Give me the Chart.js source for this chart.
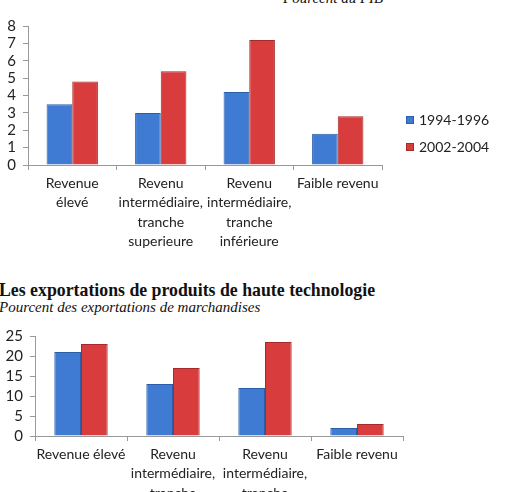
<!DOCTYPE html>
<html>
<head>
<meta charset="utf-8">
<script src="https://cdn.jsdelivr.net/npm/chart.js@4/dist/chart.umd.min.js"></script>
<style>
  body { margin: 0; background: #fff; width: 518px; height: 492px; overflow: hidden; position: relative; }
  .box { position: absolute; left: 0; width: 518px; }
  .serif { position: absolute; font-family: "Liberation Serif", "Times New Roman", serif; color: #111; white-space: nowrap; }
  .legend { position: absolute; left: 406px; font-family: Lato, "Open Sans", sans-serif; font-size: 14px; color: #222; }
  .legend div { position: absolute; white-space: nowrap; line-height: 14px; }
  .legend span { display: inline-block; width: 6px; height: 6px; margin-right: 5px; vertical-align: 1px; }
</style>
</head>
<body>
<div class="serif" style="left:283px; top:-10px; font-size:15px; font-style:italic;">Pourcent du PIB</div>
<div class="box" style="top:0; height:250px;"><canvas id="pib" width="518" height="250"></canvas></div>
<div class="legend" id="legend" style="top:113px;"></div>
<div class="serif" style="left:-1px; top:280px; font-size:17.8px; font-weight:bold;">Les exportations de produits de haute technologie</div>
<div class="serif" style="left:-1px; top:299px; font-size:15px; font-style:italic;">Pourcent des exportations de marchandises</div>
<div class="box" style="top:320px; height:172px;"><canvas id="tech" width="518" height="172"></canvas></div>
<script>
// income groups, PIB chart (multi-line labels)
const pibCategories = [
  ['Revenue', 'élevé'],
  ['Revenu', 'intermédiaire,', 'tranche', 'superieure'],
  ['Revenu', 'intermédiaire,', 'tranche', 'inférieure'],
  ['Faible revenu']
];
const techCategories = [
  ['Revenue élevé'],
  ['Revenu', 'intermédiaire,', 'tranche', 'superieure'],
  ['Revenu', 'intermédiaire,', 'tranche', 'inférieure'],
  ['Faible revenu']
];
const seriesLabels = ['1994-1996', '2002-2004'];

// Pourcent du PIB
const pib9496 = [3.5, 3.0, 4.2, 1.8];
const pib0204 = [4.8, 5.4, 7.2, 2.8];

// Pourcent des exportations de marchandises
const tech9496 = [21, 13, 12, 2];
const tech0204 = [23, 17, 23.5, 3];

const blue = '#3f7ad3';
const blueEdge = '#2c5ea8';
const red = '#d93c3c';
const redEdge = '#a52a2a';

const family = 'Lato, "Open Sans", sans-serif';

function makeChart(id, labels, a, b, yMax, yStep, axisWidth, xHeight, padding) {
  return new Chart(document.getElementById(id), {
    type: 'bar',
    data: {
      labels: labels,
      datasets: [
        { label: seriesLabels[0], data: a, backgroundColor: blue, borderColor: blueEdge, borderWidth: 1 },
        { label: seriesLabels[1], data: b, backgroundColor: red, borderColor: redEdge, borderWidth: 1 }
      ]
    },
    options: {
      responsive: false,
      animation: false,
      layout: { padding: padding },
      datasets: { bar: { categoryPercentage: 0.58, barPercentage: 1 } },
      plugins: { legend: { display: false }, tooltip: { enabled: false }, title: { display: false } },
      scales: {
        x: {
          grid: { drawOnChartArea: false, tickLength: 5, color: '#999' },
          border: { color: '#999' },
          ticks: { font: { family: family, size: 14, lineHeight: 1.38 }, color: '#222', padding: 4, maxRotation: 0, autoSkip: false },
          afterFit: s => { s.height = xHeight; }
        },
        y: {
          min: 0, max: yMax,
          grid: { drawOnChartArea: false, tickLength: 5, color: '#999' },
          border: { color: '#999' },
          ticks: { stepSize: yStep, autoSkip: false, font: { family: family, size: 15 }, color: '#222', padding: 7 },
          afterFit: s => { s.width = axisWidth; }
        }
      }
    }
  });
}

makeChart('pib', pibCategories, pib9496, pib0204, 8, 1, 28, 85, { top: 26, right: 136, bottom: 0, left: 0 });
makeChart('tech', techCategories, tech9496, tech0204, 25, 5, 35, 56, { top: 13, right: 115, bottom: 0, left: 0 });

// legend for the top chart
const legend = document.getElementById('legend');
seriesLabels.forEach((name, i) => {
  const row = document.createElement('div');
  row.style.top = (i * 27) + 'px';
  const sw = document.createElement('span');
  sw.style.background = i === 0 ? blue : red;
  sw.style.border = '1px solid ' + (i === 0 ? blueEdge : redEdge);
  row.appendChild(sw);
  row.appendChild(document.createTextNode(name));
  legend.appendChild(row);
});
</script>
</body>
</html>
